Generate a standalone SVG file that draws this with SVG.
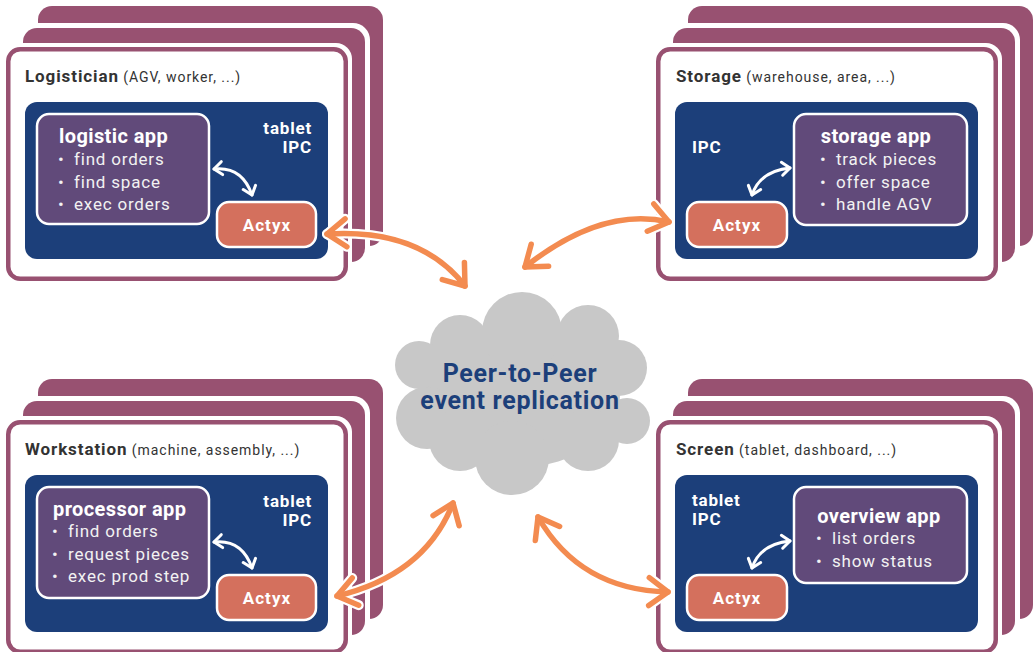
<svg xmlns="http://www.w3.org/2000/svg" xmlns:xlink="http://www.w3.org/1999/xlink" width="1036" height="652" viewBox="0 0 1036 652">
<style>
  .purple { fill: #985171; }
  .white { fill: #ffffff; }
  .front { fill: #ffffff; stroke: #985171; stroke-width: 4.5; }
  .blue { fill: #1c3f7a; }
  .app { fill: #614a7a; stroke: #ffffff; stroke-width: 2.5; }
  .actyx { fill: #d4705d; stroke: #ffffff; stroke-width: 2.5; }
  text { font-family: Roboto, "Liberation Sans", sans-serif; }
  .title { font-size: 17px; font-weight: bold; fill: #333333; letter-spacing: 0.9px; }
  .sub { font-size: 14px; font-weight: normal; fill: #333333; letter-spacing: 0.95px; }
  .dev { font-size: 17px; font-weight: bold; fill: #ffffff; letter-spacing: 0.8px; }
  .apptitle { font-size: 20px; font-weight: bold; fill: #ffffff; letter-spacing: 0.4px; }
  .item { font-size: 17px; fill: #f2f2f2; letter-spacing: 0.8px; }
  .actyxt { font-size: 17px; font-weight: bold; fill: #ffffff; text-anchor: middle; letter-spacing: 1.1px; }
  .cloudt { font-size: 25px; font-weight: bold; fill: #1c3f7a; text-anchor: middle; letter-spacing: 0.7px; }
  .halo { fill: none; stroke: #ffffff; stroke-width: 10; stroke-linecap: round; }
  .orange { fill: none; stroke: #f38b50; stroke-width: 5.5; stroke-linecap: round; }
  .inner { fill: none; stroke: #ffffff; stroke-width: 3; stroke-linecap: round; }
</style>
<defs>
  <g id="stack">
    <rect class="purple" x="38" y="6" width="345" height="240" rx="14"/>
    <rect class="white" x="18" y="23" width="352" height="244" rx="17"/>
    <rect class="purple" x="23" y="28" width="342" height="234" rx="14"/>
    <rect class="white" x="2" y="43" width="350" height="242" rx="16"/>
    <rect class="front" x="8.25" y="49.25" width="337.5" height="229.5" rx="12"/>
    <rect class="blue" x="25" y="102" width="303" height="157" rx="12"/>
  </g>
  <marker id="mh" markerUnits="userSpaceOnUse" orient="auto-start-reverse" refX="0" refY="0" markerWidth="60" markerHeight="60" viewBox="-30 -30 60 60" overflow="visible">
    <path d="M -19 -14 L 0 0 L -19 14" fill="none" stroke="#ffffff" stroke-width="10" stroke-linecap="round" stroke-linejoin="round"/>
  </marker>
  <marker id="mo" markerUnits="userSpaceOnUse" orient="auto-start-reverse" refX="0" refY="0" markerWidth="60" markerHeight="60" viewBox="-30 -30 60 60" overflow="visible">
    <path d="M -19 -14 L 0 0 L -19 14" fill="none" stroke="#f38b50" stroke-width="5.5" stroke-linecap="round" stroke-linejoin="round"/>
  </marker>
  <marker id="mw" markerUnits="userSpaceOnUse" orient="auto-start-reverse" refX="0" refY="0" markerWidth="30" markerHeight="30" viewBox="-15 -15 30 30" overflow="visible">
    <path d="M -8 -6.5 L 0 0 L -8 6.5" fill="none" stroke="#ffffff" stroke-width="3" stroke-linecap="round" stroke-linejoin="round"/>
  </marker>
</defs>

<g id="node-logistician">
  <use xlink:href="#stack" href="#stack"/>
  <text x="25" y="82"><tspan class="title">Logistician</tspan><tspan class="sub"> (AGV, worker, ...)</tspan></text>
  <text class="dev" x="312" y="134" text-anchor="end">tablet</text>
  <text class="dev" x="312" y="153" text-anchor="end">IPC</text>
  <rect class="app" x="37" y="114" width="172" height="110" rx="12"/>
  <text class="apptitle" x="59" y="143">logistic app</text>
  <text class="item" x="58" y="165">•</text><text class="item" x="74" y="165">find orders</text>
  <text class="item" x="58" y="188">•</text><text class="item" x="74" y="188">find space</text>
  <text class="item" x="58" y="210">•</text><text class="item" x="74" y="210">exec orders</text>
  <rect class="actyx" x="217" y="202" width="99" height="45" rx="12"/>
  <text class="actyxt" x="267" y="231">Actyx</text>
  <path class="inner" d="M 214 169 Q 242 166 252 195" marker-start="url(#mw)" marker-end="url(#mw)"/>
</g>

<g id="node-storage">
  <use xlink:href="#stack" href="#stack" transform="translate(650,0)"/>
  <text x="676" y="82"><tspan class="title">Storage</tspan><tspan class="sub"> (warehouse, area, ...)</tspan></text>
  <text class="dev" x="692" y="153">IPC</text>
  <rect class="app" x="794" y="114" width="173" height="111" rx="12"/>
  <text class="apptitle" x="876" y="143" text-anchor="middle">storage app</text>
  <text class="item" x="820" y="165">•</text><text class="item" x="836" y="165">track pieces</text>
  <text class="item" x="820" y="188">•</text><text class="item" x="836" y="188">offer space</text>
  <text class="item" x="820" y="210">•</text><text class="item" x="836" y="210">handle AGV</text>
  <rect class="actyx" x="687" y="202" width="100" height="45" rx="12"/>
  <text class="actyxt" x="737" y="231">Actyx</text>
  <path class="inner" d="M 752 195 Q 760 171 790 168" marker-start="url(#mw)" marker-end="url(#mw)"/>
</g>

<g id="node-workstation">
  <use xlink:href="#stack" href="#stack" transform="translate(0,373)"/>
  <text x="25" y="455"><tspan class="title">Workstation</tspan><tspan class="sub"> (machine, assembly, ...)</tspan></text>
  <text class="dev" x="312" y="507" text-anchor="end">tablet</text>
  <text class="dev" x="312" y="526" text-anchor="end">IPC</text>
  <rect class="app" x="37" y="487" width="172" height="111" rx="12"/>
  <text class="apptitle" x="53" y="516">processor app</text>
  <text class="item" x="52" y="537">•</text><text class="item" x="68" y="537">find orders</text>
  <text class="item" x="52" y="560">•</text><text class="item" x="68" y="560">request pieces</text>
  <text class="item" x="52" y="582">•</text><text class="item" x="68" y="582">exec prod step</text>
  <rect class="actyx" x="217" y="575" width="99" height="45" rx="12"/>
  <text class="actyxt" x="267" y="604">Actyx</text>
  <path class="inner" d="M 214 542 Q 242 539 252 568" marker-start="url(#mw)" marker-end="url(#mw)"/>
</g>

<g id="node-screen">
  <use xlink:href="#stack" href="#stack" transform="translate(650,373)"/>
  <text x="676" y="455"><tspan class="title">Screen</tspan><tspan class="sub"> (tablet, dashboard, ...)</tspan></text>
  <text class="dev" x="692" y="506">tablet</text>
  <text class="dev" x="692" y="525">IPC</text>
  <rect class="app" x="794" y="487" width="173" height="96" rx="12"/>
  <text class="apptitle" x="879" y="523" text-anchor="middle">overview app</text>
  <text class="item" x="816" y="544">•</text><text class="item" x="832" y="544">list orders</text>
  <text class="item" x="816" y="567">•</text><text class="item" x="832" y="567">show status</text>
  <rect class="actyx" x="687" y="575" width="100" height="45" rx="12"/>
  <text class="actyxt" x="737" y="604">Actyx</text>
  <path class="inner" d="M 752 568 Q 760 544 790 541" marker-start="url(#mw)" marker-end="url(#mw)"/>
</g>

<g id="node-cloud" fill="#c8c8c8">
  <ellipse cx="520" cy="395" rx="100" ry="72"/>
  <circle cx="522" cy="332" r="40"/>
  <circle cx="460" cy="345" r="30"/>
  <circle cx="419" cy="365" r="24"/>
  <circle cx="427" cy="418" r="31"/>
  <circle cx="460" cy="440" r="31"/>
  <circle cx="512" cy="458" r="37"/>
  <circle cx="588" cy="440" r="31"/>
  <circle cx="627" cy="421" r="23"/>
  <circle cx="619" cy="368" r="28"/>
  <circle cx="588" cy="336" r="31"/>
  <text class="cloudt" x="520" y="382">Peer-to-Peer</text>
  <text class="cloudt" x="520" y="409">event replication</text>
</g>

<g id="connectors">
  <path class="halo" d="M 327 234 Q 420 228 465 286" marker-start="url(#mh)" marker-end="url(#mh)"/>
  <path class="halo" d="M 525 267 Q 602 206 669 222" marker-start="url(#mh)" marker-end="url(#mh)"/>
  <path class="halo" d="M 337 596 Q 425 575 453 503" marker-start="url(#mh)" marker-end="url(#mh)"/>
  <path class="halo" d="M 538 517 Q 580 590 668 592" marker-start="url(#mh)" marker-end="url(#mh)"/>
  <path class="orange" d="M 327 234 Q 420 228 465 286" marker-start="url(#mo)" marker-end="url(#mo)"/>
  <path class="orange" d="M 525 267 Q 602 206 669 222" marker-start="url(#mo)" marker-end="url(#mo)"/>
  <path class="orange" d="M 337 596 Q 425 575 453 503" marker-start="url(#mo)" marker-end="url(#mo)"/>
  <path class="orange" d="M 538 517 Q 580 590 668 592" marker-start="url(#mo)" marker-end="url(#mo)"/>
</g>
</svg>
